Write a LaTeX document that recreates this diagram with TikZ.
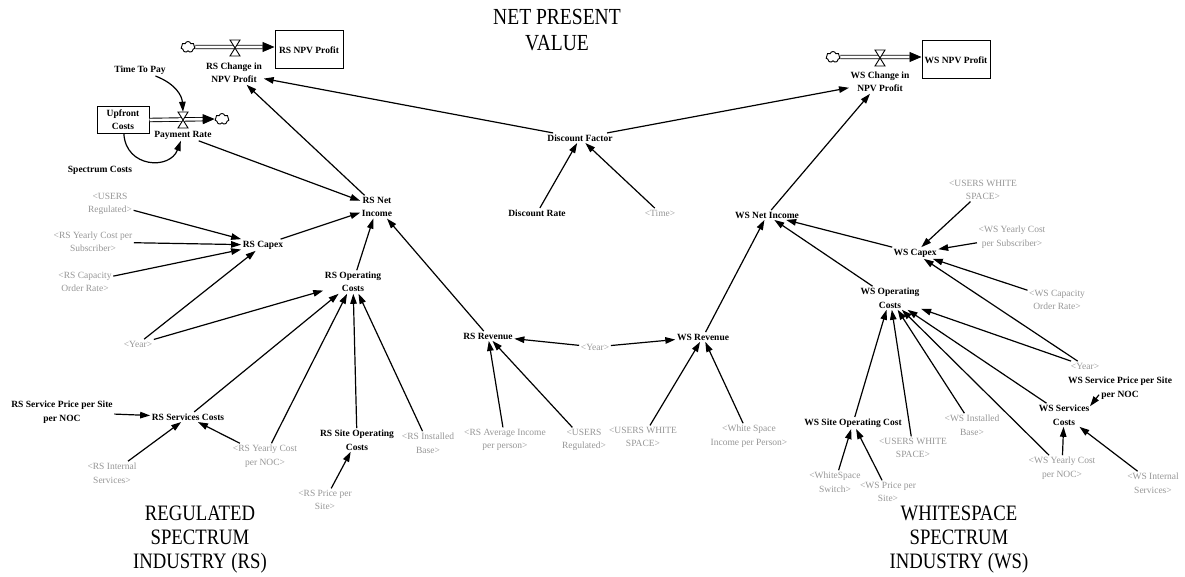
\documentclass[tikz,border=0pt]{standalone}
\usepackage{fontspec}
\setmainfont{Liberation Serif}
\newfontfamily\headfont{Liberation Serif}[FakeStretch=0.85]
\usetikzlibrary{arrows.meta,shapes.symbols}
\definecolor{shadowgray}{RGB}{150,150,150}
\begin{document}
\begin{tikzpicture}[x=1pt,y=-1pt,
  auxvar/.style={font=\fontsize{9.5}{13.5}\selectfont\bfseries, align=center, inner sep=1.5pt},
  shadowvar/.style={font=\fontsize{9.5}{13.5}\selectfont, text=shadowgray, align=center, inner sep=1.5pt},
  heading/.style={font=\headfont\fontsize{22}{24}\selectfont, align=center},
  stock/.style={draw, line width=1pt, font=\fontsize{9.5}{12}\selectfont\bfseries, align=center, inner sep=2pt},
  link/.style={-{Triangle[length=10pt,width=6.5pt]}, line width=1.2pt},
  pipe/.style={double, double distance=2.6pt, line width=0.9pt, -{Triangle[length=12pt,width=10pt]}},
  sink/.style={cloud, cloud puffs=7, draw, line width=0.9pt, minimum width=14pt, minimum height=11pt, inner sep=0pt},
  valvebox/.style={minimum width=10pt, minimum height=16pt, inner sep=0pt},
  valve/.pic={\draw[line width=0.9pt, fill=white] (-5,-8) -- (5,-8) -- (-5,8) -- (5,8) -- cycle;}
]
\useasboundingbox (0,0) rectangle (1185,577);

% ---------- section headings
\node[heading, font=\headfont\fontsize{23}{26}\selectfont] (hnpv) at (557,30) {NET PRESENT\\VALUE};
\node[heading] (hrs) at (200,540) {REGULATED\\SPECTRUM\\INDUSTRY (RS)};
\node[heading] (hws) at (959,540) {WHITESPACE\\SPECTRUM\\INDUSTRY (WS)};

% ---------- stocks, flows, sources
\node[stock, minimum width=68pt, minimum height=38pt] (rsbox) at (309,50) {RS NPV Profit};
\node[sink] (rsc1) at (188,47) {};
\node[valvebox] (rsv) at (235,48) {};
\node[auxvar] (rschg) at (234,73) {RS Change in\\NPV Profit};

\node[stock, minimum width=52pt, minimum height=27pt, font=\fontsize{9.5}{13}\selectfont\bfseries] (upf) at (123,120) {Upfront\\Costs};
\node[sink] (upc2) at (222,119) {};
\node[valvebox] (prv) at (183,120) {};
\node[auxvar] (pay) at (183,135) {Payment Rate};
\node[auxvar] (ttp) at (140,70) {Time To Pay};
\node[auxvar] (spc) at (100,170) {Spectrum Costs};

\node[stock, minimum width=68pt, minimum height=38pt] (wsbox) at (956,60) {WS NPV Profit};
\node[sink] (wsc1) at (833,57) {};
\node[valvebox] (wsv) at (880,58) {};
\node[auxvar] (wschg) at (880,82) {WS Change in\\NPV Profit};

\draw[pipe] (rsc1.east) -- (rsc1 -| rsbox.west);
\draw[pipe] (upf.east |- prv) -- (upc2.west);
\draw[pipe] (wsc1.east) -- (wsc1 -| wsbox.west);
\pic at (rsv) {valve};
\pic at (prv) {valve};
\pic at (wsv) {valve};

% ---------- discounting
\node[auxvar] (df) at (580,138) {Discount Factor};
\node[auxvar] (dr) at (537,213) {Discount Rate};
\node[shadowvar] (time) at (660,213) {<Time>};

% ---------- regulated spectrum
\node[auxvar] (rsni) at (377,207) {RS Net\\Income};
\node[auxvar] (rscap) at (263,245) {RS Capex};
\node[shadowvar] (usr1) at (110,204) {<USERS\\Regulated>};
\node[shadowvar] (rsycs) at (93,242) {<RS Yearly Cost per\\Subscriber>};
\node[shadowvar] (rscor) at (85,282) {<RS Capacity\\Order Rate>};
\node[shadowvar] (yr1) at (138,344) {<Year>};
\node[auxvar] (rsop) at (353,282) {RS Operating\\Costs};
\node[auxvar] (rssp) at (62,412) {RS Service Price per Site\\per NOC};
\node[auxvar] (rssc) at (188,417) {RS Services Costs};
\node[shadowvar] (rsis) at (112,473) {<RS Internal\\Services>};
\node[shadowvar] (rsycn) at (265,456) {<RS Yearly Cost\\per NOC>};
\node[auxvar] (rssoc) at (357,440) {RS Site Operating\\Costs};
\node[shadowvar] (rspps) at (325,500) {<RS Price per\\Site>};
\node[shadowvar] (rsib) at (428,443) {<RS Installed\\Base>};
\node[auxvar] (rsrev) at (488,336) {RS Revenue};
\node[shadowvar] (rsai) at (505,440) {<RS Average Income\\per person>};
\node[shadowvar] (usr2) at (584,440) {<USERS\\Regulated>};
\node[shadowvar] (yr2) at (595,347) {<Year>};

% ---------- whitespace spectrum
\node[auxvar] (wsrev) at (703,337) {WS Revenue};
\node[shadowvar] (usw1) at (643,437) {<USERS WHITE\\SPACE>};
\node[shadowvar] (wsip) at (749,436) {<White Space\\Income per Person>};
\node[auxvar] (wsni) at (767,215) {WS Net Income};
\node[shadowvar] (usw2) at (983,190) {<USERS WHITE\\SPACE>};
\node[auxvar] (wscap) at (915,253) {WS Capex};
\node[shadowvar] (wsycs) at (1012,237) {<WS Yearly Cost\\per Subscriber>};
\node[shadowvar] (wscor) at (1057,300) {<WS Capacity\\Order Rate>};
\node[auxvar] (wsop) at (890,298) {WS Operating\\Costs};
\node[shadowvar] (yr3) at (1085,366) {<Year>};
\node[auxvar] (wssp) at (1120,388) {WS Service Price per Site\\per NOC};
\node[auxvar] (wssc) at (1064,415) {WS Services\\Costs};
\node[auxvar] (wssoc) at (853,423) {WS Site Operating Cost};
\node[shadowvar] (usw3) at (913,448) {<USERS WHITE\\SPACE>};
\node[shadowvar] (wsib) at (972,425) {<WS Installed\\Base>};
\node[shadowvar] (wsycn) at (1062,468) {<WS Yearly Cost\\per NOC>};
\node[shadowvar] (wsis) at (1153,483) {<WS Internal\\Services>};
\node[shadowvar] (wss) at (835,482) {<WhiteSpace\\Switch>};
\node[shadowvar] (wspps) at (888,492) {<WS Price per\\Site>};

% ---------- links: stock and flow area
\draw[link] (ttp) .. controls (176,84) and (182,96) .. (prv.north);
\draw[link] (upf) .. controls (126,168) and (170,170) .. (pay);
\draw[link] (pay) -- (rsni);
\draw[link] (rsni) -- (rschg);
\draw[link] (df) -- (rschg);
\draw[link] (df) -- (wschg);
\draw[link] (dr) -- (df);
\draw[link] (time) -- (df);
\draw[link] (wsni) -- (wschg);

% ---------- links: regulated spectrum
\draw[link] (usr1) -- (rscap);
\draw[link] (rsycs) -- (rscap);
\draw[link] (rscor) -- (rscap);
\draw[link] (yr1) -- (rscap);
\draw[link] (yr1) -- (rsop);
\draw[link] (rscap) -- (rsni);
\draw[link] (rsop) -- (rsni);
\draw[link] (rsrev) -- (rsni);
\draw[link] (rssc) -- (rsop);
\draw[link] (rsycn) -- (rsop);
\draw[link] (rssoc) -- (rsop);
\draw[link] (rsib) -- (rsop);
\draw[link] (rssp) -- (rssc);
\draw[link] (rsis) -- (rssc);
\draw[link] (rsycn) -- (rssc);
\draw[link] (rspps) -- (rssoc);
\draw[link] (rsai) -- (rsrev);
\draw[link] (usr2) -- (rsrev);
\draw[link] (yr2) -- (rsrev);
\draw[link] (yr2) -- (wsrev);

% ---------- links: whitespace spectrum
\draw[link] (usw1) -- (wsrev);
\draw[link] (wsip) -- (wsrev);
\draw[link] (wsrev) -- (wsni);
\draw[link] (wscap) -- (wsni);
\draw[link] (wsop) -- (wsni);
\draw[link] (usw2) -- (wscap);
\draw[link] (wsycs) -- (wscap);
\draw[link] (wscor) -- (wscap);
\draw[link] (yr3) -- (wscap);
\draw[link] (yr3) -- (wsop);
\draw[link] (wssoc) -- (wsop);
\draw[link] (usw3) -- (wsop);
\draw[link] (wsib) -- (wsop);
\draw[link] (wsycn) -- (wsop);
\draw[link] (wssc) -- (wsop);
\draw[link] ([xshift=-21pt,yshift=6pt]wssp.south) -- ([xshift=26pt,yshift=-3pt]wssc.north);
\draw[link] (wsycn) -- (wssc);
\draw[link] (wsis) -- (wssc);
\draw[link] (wss) -- (wssoc);
\draw[link] (wspps) -- (wssoc);
\end{tikzpicture}
\end{document}
